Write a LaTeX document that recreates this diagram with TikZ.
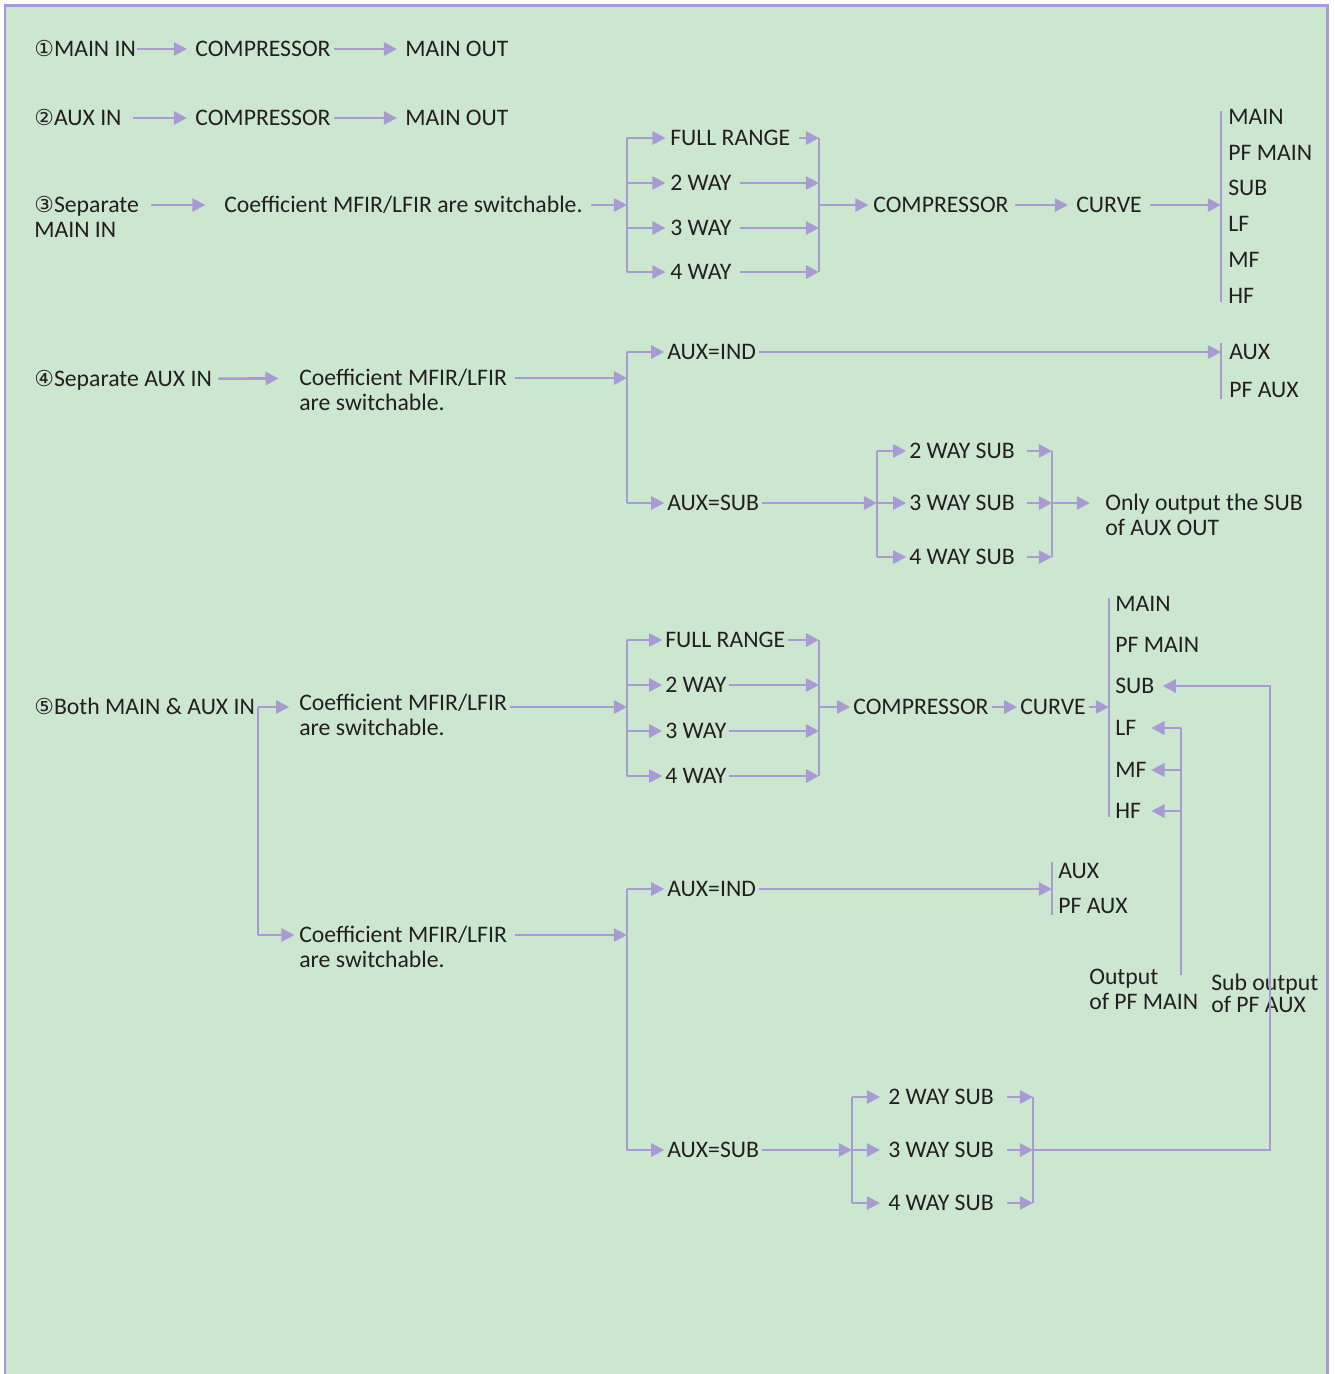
\documentclass[tikz,border=0pt]{standalone}
\usepackage{fontspec}
\setmainfont{Carlito}
\newfontfamily\circfont{DejaVu Sans}
\usetikzlibrary{arrows.meta,positioning}

\definecolor{bg}{RGB}{204,231,207}
\definecolor{lav}{RGB}{168,155,212}
\definecolor{ink}{RGB}{35,31,32}

\newcommand{\cnum}[1]{{\circfont\fontsize{12.5}{14}\selectfont #1}}

\tikzset{
  lbl/.style={anchor=west, inner sep=0pt, text height=9pt, text depth=0pt,
    text=ink, font=\fontsize{13.5}{15}\selectfont},
  nxt/.style={lbl, below=of #1.south west, anchor=north west},
  gap/.style={->, shorten >=4pt, shorten <=3pt},
  inb/.style={->, shorten <=4pt},
  outb/.style={->, shorten >=2pt},
}

\begin{document}
\begin{tikzpicture}[x=0.02cm,y=-0.02cm,>={Triangle[length=7.5pt,width=7.5pt]},
  color=lav,line width=1.5pt,node distance=3.4pt]
\useasboundingbox (0,0) rectangle (1335,1374);
\fill[bg] (5,5) rectangle (1327,1380);
\draw[line width=1.7pt] (5,1380) -- (5,5) -- (1327,5) -- (1327,1380);

% 1 and 2
\node (in1) [lbl] at (33,49) {\cnum{①}MAIN IN};
\node (cp1) [lbl] at (194,49) {COMPRESSOR};
\node (out1) [lbl] at (404,49) {MAIN OUT};
\node (in2) [lbl] at (33,118) {\cnum{②}AUX IN};
\node (cp2) [lbl] at (194,118) {COMPRESSOR};
\node (out2) [lbl] at (404,118) {MAIN OUT};
\path[gap] (in1) edge[shorten <=0pt] (cp1)
  (cp1) edge[shorten <=1pt] (out1)
  (in2) edge[shorten <=6pt] (cp2)
  (cp2) edge[shorten <=1pt] (out2);

% 3
\node (in3) [lbl] at (33,205) {\cnum{③}Separate};
\node (in3b) [nxt=in3] {MAIN IN};
\node (cf3) [lbl] at (223,205) {Coefficient MFIR/LFIR are switchable.};
\draw[gap,shorten <=6pt,shorten >=10pt] (in3) -- (cf3);
\coordinate (s3) at (627,205);
\coordinate (t3) at (819,205);
\node (fr3) [lbl] at (669,138) {FULL RANGE};
\node (w23) [lbl] at (669,183) {2 WAY};
\node (w33) [lbl] at (669,228) {3 WAY};
\node (w43) [lbl] at (669,272) {4 WAY};
\draw[inb] (cf3) -- (s3);
\draw (s3 |- fr3) -- (s3 |- w43);
\draw (t3 |- fr3) -- (t3 |- w43);
\foreach \n in {fr3,w23,w33,w43} {
  \draw[outb] (s3 |- \n) -- (\n);
  \draw[inb] (\n) -- (t3 |- \n);
}
\node (cp3) [lbl] at (872,205) {COMPRESSOR};
\node (cv3) [lbl] at (1075,205) {CURVE};
\coordinate (o3) at (1221,205);
\draw[outb] (t3) -- (cp3);
\draw[gap] (cp3) -- (cv3);
\draw[inb] (cv3) -- (o3);
\node (mn3) [lbl] at (1227,117) {MAIN};
\node (pm3) [lbl] at (1227,153) {PF MAIN};
\node (sb3) [lbl] at (1227,188) {SUB};
\node (lf3) [lbl] at (1227,224) {LF};
\node (mf3) [lbl] at (1227,260) {MF};
\node (hf3) [lbl] at (1227,296) {HF};
\draw ([yshift=-2pt]o3 |- mn3.north) -- ([yshift=2pt]o3 |- hf3.south);

% 4
\node (in4) [lbl] at (33,379) {\cnum{④}Separate AUX IN};
\node (cf4) [lbl] at (298,378) {Coefficient MFIR/LFIR};
\node (cf4b) [nxt=cf4] {are switchable.};
\draw[gap,shorten >=11pt] (in4) -- (cf4);
\coordinate (s4) at (627,378);
\draw[inb] (cf4) -- (s4);
\node (ind4) [lbl] at (666,352) {AUX=IND};
\node (sub4) [lbl] at (666,503) {AUX=SUB};
\draw (s4 |- ind4) -- (s4 |- sub4);
\draw[outb,shorten >=1pt] (s4 |- ind4) -- (ind4);
\draw[outb,shorten >=1pt] (s4 |- sub4) -- (sub4);
\coordinate (o4) at (1221,352);
\draw[inb,shorten <=1pt] (ind4) -- (o4);
\node (ax4) [lbl] at (1228,352) {AUX};
\node (pa4) [lbl] at (1228,390) {PF AUX};
\draw (o4 |- ax4.north) -- (o4 |- pa4.south);
\coordinate (s4b) at (877,503);
\coordinate (t4) at (1052,503);
\draw[inb,shorten <=1pt] (sub4) -- (s4b);
\node (ws42) [lbl] at (908,451) {2 WAY SUB};
\node (ws43) [lbl] at (908,503) {3 WAY SUB};
\node (ws44) [lbl] at (908,557) {4 WAY SUB};
\draw (s4b |- ws42) -- (s4b |- ws44);
\draw (t4 |- ws42) -- (t4 |- ws44);
\foreach \n in {ws42,ws43,ws44} {
  \draw[outb,shorten >=1pt] (s4b |- \n) -- (\n);
  \draw[inb,shorten <=6pt] (\n) -- (t4 |- \n);
}
\node (only4) [lbl] at (1104,503) {Only output the SUB};
\node (only4b) [nxt=only4] {of AUX OUT};
\draw[outb,shorten >=8pt] (t4) -- (only4);

% 5
\node (in5) [lbl] at (33,707) {\cnum{⑤}Both MAIN \& AUX IN};
\coordinate (f5) at (258,707);
\node (cf5) [lbl] at (298,703) {Coefficient MFIR/LFIR};
\node (cf5b) [nxt=cf5] {are switchable.};
\node (cf6) [lbl] at (298,935) {Coefficient MFIR/LFIR};
\node (cf6b) [nxt=cf6] {are switchable.};
\draw[outb,shorten >=5pt] (f5) -- (f5 -| cf5.west);
\draw (f5) -- (f5 |- cf6);
\draw[outb] (f5 |- cf6) -- (cf6);
\coordinate (s5) at (627,707);
\coordinate (s6) at (627,935);
\draw[inb,shorten <=1pt] (cf5.east |- s5) -- (s5);
\draw[inb] (cf6) -- (s6);

\coordinate (t5) at (819,707);
\node (fr5) [lbl] at (664,640) {FULL RANGE};
\node (w25) [lbl] at (664,685) {2 WAY};
\node (w35) [lbl] at (664,731) {3 WAY};
\node (w45) [lbl] at (664,776) {4 WAY};
\draw (s5 |- fr5) -- (s5 |- w45);
\draw (t5 |- fr5) -- (t5 |- w45);
\foreach \n in {fr5,w25,w35,w45} {
  \draw[outb,shorten >=1pt] (s5 |- \n) -- (\n);
  \draw[inb,shorten <=1pt] (\n) -- (t5 |- \n);
}
\node (cp5) [lbl] at (852,707) {COMPRESSOR};
\node (cv5) [lbl] at (1019,707) {CURVE};
\coordinate (o5) at (1109,707);
\draw[outb,shorten >=1pt] (t5) -- (cp5);
\draw[gap,shorten >=1pt,shorten <=1pt] (cp5) -- (cv5);
\draw[inb,shorten <=1pt] (cv5) -- (o5);
\node (mn5) [lbl] at (1114,604) {MAIN};
\node (pm5) [lbl] at (1114,645) {PF MAIN};
\node (sb5) [lbl] at (1114,686) {SUB};
\node (lf5) [lbl] at (1114,728) {LF};
\node (mf5) [lbl] at (1114,770) {MF};
\node (hf5) [lbl] at (1114,811) {HF};
\draw ([yshift=-2pt]o5 |- mn5.north) -- ([yshift=2pt]o5 |- hf5.south);

% lower half of 5
\node (ind6) [lbl] at (666,889) {AUX=IND};
\node (sub6) [lbl] at (666,1150) {AUX=SUB};
\draw (s6 |- ind6) -- (s6 |- sub6);
\draw[outb,shorten >=1pt] (s6 |- ind6) -- (ind6);
\draw[outb,shorten >=1pt] (s6 |- sub6) -- (sub6);
\coordinate (o6) at (1052,889);
\draw[inb,shorten <=1pt] (ind6) -- (o6);
\node (ax6) [lbl] at (1057,871) {AUX};
\node (pa6) [lbl] at (1057,906) {PF AUX};
\draw (o6 |- ax6.north) -- (o6 |- pa6.south);
\coordinate (s7) at (852,1150);
\coordinate (t7) at (1033,1150);
\draw[inb,shorten <=1pt] (sub6) -- (s7);
\node (ws62) [lbl] at (887,1097) {2 WAY SUB};
\node (ws63) [lbl] at (887,1150) {3 WAY SUB};
\node (ws64) [lbl] at (887,1203) {4 WAY SUB};
\draw (s7 |- ws62) -- (s7 |- ws64);
\draw (t7 |- ws62) -- (t7 |- ws64);
\foreach \n in {ws62,ws63,ws64} {
  \draw[outb,shorten >=4pt] (s7 |- \n) -- (\n);
  \draw[inb,shorten <=7pt] (\n) -- (t7 |- \n);
}

% returns to the MAIN outputs
\node (op5) [lbl] at (1088,977) {Output};
\node (op5b) [nxt=op5] {of PF MAIN};
\node (so5) [lbl] at (1210,983) {Sub output};
\node (so5b) [lbl, below=1.5pt of so5.south west, anchor=north west] {of PF AUX};
\coordinate (q5) at (1181,975);
\coordinate (r5) at (1270,1150);
\draw (q5) -- (q5 |- lf5);
\foreach \n in {lf5,mf5,hf5}
  \draw[outb] (q5 |- \n) -- (mf5.east |- \n);
\draw[->,shorten >=4pt] (t7) -- (r5) -- (r5 |- sb5) -- (sb5);
\end{tikzpicture}
\end{document}
